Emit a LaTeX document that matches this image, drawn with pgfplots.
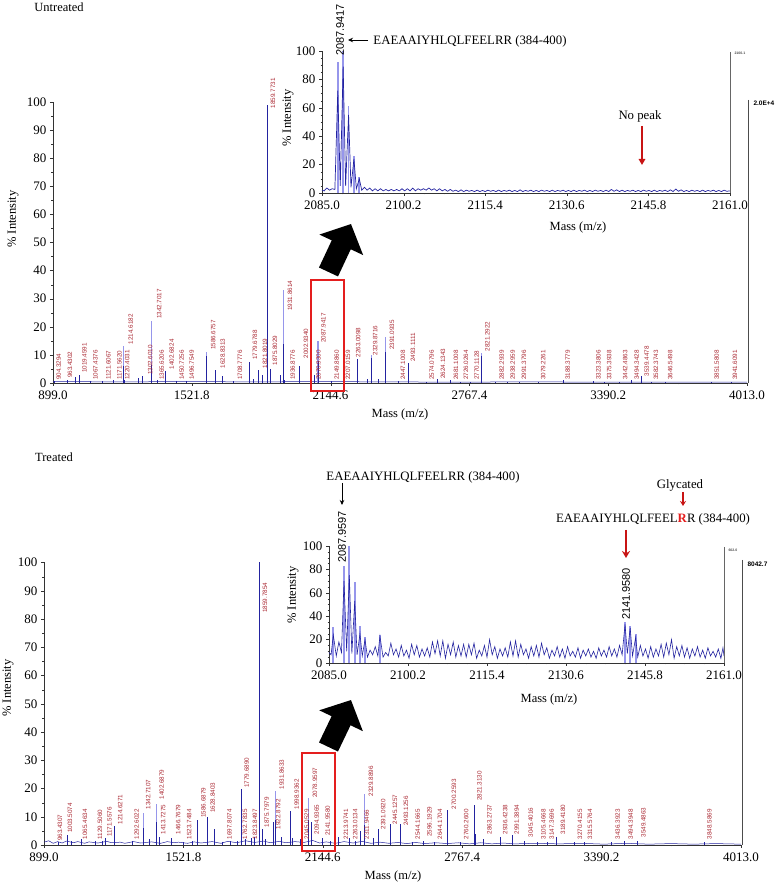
\documentclass[border=0pt]{standalone}
\usepackage{pgfplots}
\pgfplotsset{compat=1.18}
\usepackage{fontspec}
\setmainfont{Liberation Serif}
\newfontfamily\sansf{Liberation Sans}
\usetikzlibrary{arrows.meta}
\definecolor{navy}{RGB}{35,35,160}
\definecolor{lav}{RGB}{150,150,235}
\definecolor{labred}{RGB}{170,40,50}
\definecolor{boxred}{RGB}{228,30,30}
\definecolor{arrred}{RGB}{200,20,20}
\pgfplotsset{
  spec/.style={scale only axis, anchor=south west, axis x line=bottom, axis y line=left,
    axis line style={-, black!80}, tick style={black!80}, tick align=outside,
    major tick length=3pt, minor tick length=1.5pt,
    ticklabel style={font=\fontsize{13}{13}\selectfont},
    xticklabel style={yshift=-1.5pt},
    clip=false, /pgf/number format/assume math mode=true, ymin=0, ymax=100},
  labs/.style={only marks, mark=none, nodes near coords, point meta=explicit symbolic,
    nodes near coords align=horizontal,
    nodes near coords style={font=\sansf\fontsize{6.3}{6.3}\selectfont, text=labred,
      rotate=90, anchor=west, inner sep=0.6pt}},
}
\begin{document}
\begin{tikzpicture}
\useasboundingbox (0pt,0pt) rectangle (778pt,886pt);

% ================= UNTREATED main =================
\begin{axis}[spec, at={(53pt,503pt)}, width=694pt, height=281pt, xmin=899, xmax=4013,
  xtick={899,1521.8,2144.6,2767.4,3390.2,4013},
  xticklabels={899.0,1521.8,2144.6,2767.4,3390.2,4013.0},
  ytick={0,10,20,30,40,50,60,70,80,90,100}, minor x tick num=1, minor y tick num=1]
\addplot[navy, line width=0.5pt] coordinates {(899,0.5)(1200,0.4)(1500,0.5)(1800,0.4)(2100,0.5)(2400,0.4)(2700,0.3)(3000,0.4)(3400,0.3)(4013,0.3)};
% light (centroid) tops of the larger peaks
\addplot[ycomb, lav, line width=1.1pt, mark=none] coordinates {(1214.62,13)(1342.70,22)(1586.68,11)(1931.86,33)(2087.94,15)(2329.87,10)(2391.09,16.5)(2821.29,10.8)};
\addplot[ycomb, navy, line width=0.9pt, mark=none] table {
x y
904.33 0.8
963.43 1.2
1000.5 2.0
1019.46 3.0
1067.44 0.8
1121.61 0.8
1171.56 1.0
1214.62 6.0
1220.40 1.0
1282.0 1.8
1302.60 2.5
1342.70 6.5
1365.62 1.0
1402.68 4.3
1450.73 0.8
1496.75 0.8
1586.68 9.5
1628.83 4.5
1660.0 2.5
1708.78 0.8
1779.68 7.5
1800.0 1.5
1821.80 4.5
1840.0 3.0
1859.77 99.0
1862.0 25.0
1875.80 5.0
1920.0 3.0
1931.86 14.0
1936.88 1.0
2002.93 6.0
2070.93 3.0
2087.94 8.0
2091.0 5.0
2149.89 0.8
2207.02 0.8
2263.01 8.5
2310.0 1.5
2329.87 9.0
2360.0 1.5
2391.09 11.0
2447.10 0.8
2493.11 7.0
2574.08 0.5
2624.13 1.5
2681.10 1.0
2726.03 0.5
2770.11 0.5
2821.29 9.5
2882.29 0.5
2938.30 0.5
2991.38 0.5
3079.23 0.5
3188.38 1.0
3323.38 0.6
3375.39 0.5
3442.49 0.5
3494.34 1.0
3539.45 2.5
3582.37 0.5
3646.55 0.5
3851.58 0.5
3941.61 0.5
};
\addplot[labs] table[x=lx, y=ly, meta=lab] {
lx ly lab
925 0.8 904.3294
975 1.5 963.4302
1040 3.3 1019.4591
1090 0.8 1067.4376
1148 0.8 1121.6067
1197 0.8 1171.5620
1232 0.8 1220.4031
1248 13.5 1214.6182
1335 2.6 1302.6010
1375 22.5 1342.7017
1387 0.8 1365.6206
1432 4.6 1402.6824
1476 0.8 1450.7256
1521 0.8 1496.7549
1618 11.5 1586.6757
1660 4.9 1628.8313
1738 0.8 1708.7776
1805 7.9 1779.6788
1850 4.9 1821.8019
1886 97.5 1859.7731
1895 6 1875.8029
1962 25.5 1931.8614
1974 0.8 1936.8776
2034 8.5 2002.9340
2090 0.8 2070.9300
2112 14 2087.9417
2172 0.8 2149.8860
2223 0.8 2207.0159
2268 8.8 2263.0098
2345 9.5 2329.8716
2420 11.5 2391.0935
2469 0.8 2447.1008
2514 7.3 2493.1111
2598 0.8 2574.0796
2649 1.3 2624.1343
2707 0.8 2681.1008
2752 0.8 2726.0264
2800 0.8 2770.1128
2848 11 2821.2922
2912 0.8 2882.2939
2962 0.8 2938.2959
3012 0.8 2991.3796
3099 0.8 3079.2261
3208 0.8 3188.3779
3346 0.8 3323.3806
3395 0.8 3375.3938
3466 0.8 3442.4863
3518 0.8 3494.3428
3563 2.2 3539.4478
3605 0.8 3582.3743
3668 0.8 3646.5498
3877 0.8 3851.5808
3959 0.8 3941.6091
};
\end{axis}

% ================= UNTREATED inset =================
\begin{axis}[spec, at={(322pt,693pt)}, width=408pt, height=142pt, xmin=2085, xmax=2161,
  xtick={2085,2100.2,2115.4,2130.6,2145.8,2161},
  xticklabels={2085.0,2100.2,2115.4,2130.6,2145.8,2161.0},
  ytick={0,20,40,60,80,100}, minor y tick num=3, minor x tick num=3]
\addplot[ycomb, lav, line width=1.8pt, mark=none] coordinates {(2087.94,92)(2088.94,100)(2089.95,61)(2090.95,26)(2091.95,11)};
\addplot[navy, line width=0.7pt, mark=none] coordinates {(2085,2)(2085.4,1.5)(2085.9,3.5)(2086.4,2)(2086.9,3)(2087.4,2.5)(2087.94,72)(2088.4,5)(2088.94,89)(2089.4,5)(2089.95,55)(2090.4,4)(2090.95,24)(2091.4,3)(2091.95,10)(2092.4,2)(2092.9,4)(2093.4,2)(2093.9,3.5)(2094.4,1.5)(2094.9,3)(2095.4,1.5)(2095.9,3)(2096.4,1.5)(2096.9,2.5)(2097.4,1.5)(2097.9,2.5)(2098.4,1.5)(2098.9,2.5)(2099.4,1.5)(2099.9,3)(2100.4,1.5)(2100.9,3)(2101.4,1.5)(2101.9,3.5)(2102.4,1.5)(2102.9,3)(2103.4,2)(2103.9,3)(2104.4,2)(2104.9,3.5)(2105.4,2)(2105.9,3)(2106.4,1.5)(2106.9,3)(2107.4,1.5)(2107.9,2.5)(2108.4,1.2)(2108.9,2.5)(2109.4,1.2)(2109.9,2)(2110.4,1)(2110.9,2.2)(2111.4,1)(2111.9,2)(2112.4,1.2)(2112.9,1.8)(2113.4,1)(2113.9,2)(2114.4,1)(2114.9,1.8)(2115.4,1)(2115.9,2)(2116.4,1.2)(2116.9,1.8)(2117.4,1)(2117.9,2)(2118.4,1)(2118.9,1.8)(2119.4,1.2)(2119.9,2)(2120.4,1)(2120.9,1.8)(2121.4,1)(2121.9,2.2)(2122.4,1)(2122.9,1.8)(2123.4,1.2)(2123.9,2)(2124.4,1)(2124.9,1.8)(2125.4,1)(2125.9,2)(2126.4,1.2)(2126.9,1.8)(2127.4,1)(2127.9,2)(2128.4,1)(2128.9,1.8)(2129.4,1.2)(2129.9,2)(2130.4,1)(2130.9,1.8)(2131.4,1)(2131.9,2)(2132.4,1)(2132.9,1.8)(2133.4,1.2)(2133.9,2)(2134.4,1)(2134.9,1.8)(2135.4,1)(2135.9,2)(2136.4,1.2)(2136.9,1.8)(2137.4,1)(2137.9,2)(2138.4,1)(2138.9,2.5)(2139.4,1.2)(2139.9,2.2)(2140.4,1)(2140.9,2)(2141.4,1)(2141.9,1.8)(2142.4,1.2)(2142.9,2)(2143.4,1)(2143.9,1.8)(2144.4,1)(2144.9,2)(2145.4,1.2)(2145.9,1.8)(2146.4,1)(2146.9,2)(2147.4,1)(2147.9,1.8)(2148.4,1.2)(2148.9,2)(2149.4,1)(2149.9,2.2)(2150.4,1)(2150.9,2.8)(2151.4,1.2)(2151.9,2.2)(2152.4,1)(2152.9,1.8)(2153.4,1)(2153.9,2)(2154.4,1.2)(2154.9,1.8)(2155.4,1)(2155.9,2)(2156.4,1)(2156.9,1.8)(2157.4,1.2)(2157.9,2)(2158.4,1)(2158.9,1.8)(2159.4,1)(2159.9,2)(2160.4,1.2)(2161,1.5)};
\end{axis}

% ================= TREATED main =================
\begin{axis}[spec, at={(44pt,41pt)}, width=697pt, height=282.5pt, xmin=899, xmax=4013,
  xtick={899,1521.8,2144.6,2767.4,3390.2,4013},
  xticklabels={899.0,1521.8,2144.6,2767.4,3390.2,4013.0},
  ytick={0,10,20,30,40,50,60,70,80,90,100}, minor x tick num=1, minor y tick num=1]
\addplot[navy, line width=0.5pt, mark=none] coordinates {(899,1.0)(920,1.5)(940,0.6)(960,1.2)(980,0.7)(1000,1.4)(1030,0.8)(1050,1.2)(1080,0.6)(1100,1.1)(1140,0.7)(1180,1.3)(1200,0.8)(1240,1.0)(1260,0.6)(1300,1.2)(1330,0.7)(1380,1.1)(1420,0.6)(1450,1.2)(1480,0.8)(1500,1.0)(1540,0.6)(1570,1.1)(1600,0.7)(1650,1.2)(1690,0.6)(1720,1.3)(1760,0.8)(1800,1.5)(1840,0.9)(1880,1.4)(1910,0.8)(1950,1.3)(1980,0.8)(2020,1.2)(2060,0.9)(2100,1.6)(2130,0.7)(2160,1.1)(2200,0.6)(2240,1.2)(2280,0.7)(2320,1.3)(2360,0.6)(2400,1.0)(2440,0.6)(2480,0.9)(2520,0.5)(2560,0.9)(2600,0.5)(2650,0.8)(2700,0.5)(2750,0.8)(2800,0.4)(2850,0.8)(2900,0.4)(2950,0.7)(3000,0.4)(3100,0.6)(3200,0.4)(3300,0.6)(3400,0.3)(3500,0.6)(3600,0.3)(3700,0.5)(3800,0.3)(3900,0.5)(4013,0.3)};
\addplot[ycomb, lav, line width=1.1pt, mark=none] coordinates {(1342.71,11.2)(1402.69,14.5)(1931.86,19.0)(2078.96,16.5)(2329.89,18.0)};
\addplot[ycomb, navy, line width=0.9pt, mark=none] table {
x y
963.43 1.2
1003.51 3.5
1020.0 1.5
1065.46 2.0
1129.51 1.5
1160.0 1.5
1171.56 2.5
1214.63 6.7
1292.60 1.5
1342.71 6.0
1370.0 2.0
1402.69 8.0
1413.73 3.0
1466.77 2.5
1523.75 1.0
1560.0 1.5
1586.69 9.0
1628.84 9.8
1660.0 5.5
1697.81 1.0
1730.0 1.5
1762.78 1.5
1779.69 19.8
1800.0 2.0
1823.85 2.5
1840.0 3.0
1859.79 100
1862.0 25.3
1875.80 5.5
1890.0 2.0
1922.88 8.0
1931.86 9.0
1960.0 3.0
1998.94 12.0
2010.0 2.5
2045.05 2.0
2078.96 9.0
2094.94 8.0
2141.96 2.5
2180.0 1.5
2213.97 3.0
2263.01 2.5
2290.0 1.5
2311.95 5.0
2329.89 7.0
2370.0 2.5
2391.09 5.5
2445.13 7.5
2493.13 7.5
2544.17 1.0
2596.19 1.5
2644.17 1.0
2700.26 12.5
2760.26 1.0
2821.31 14.0
2825.0 4.0
2863.27 2.0
2936.42 3.0
2991.39 3.5
3045.40 1.5
3105.47 1.0
3147.37 1.0
3189.42 3.0
3270.42 1.0
3315.58 1.0
3436.39 1.0
3494.39 1.5
3549.49 1.5
3848.59 1.0
};
\addplot[labs] table[x=lx, y=ly, meta=lab] {
lx ly lab
970 1.2 963.4307
1015 4 1003.5074
1082 1.8 1065.4634
1149 1.8 1129.5060
1191 2.7 1171.5576
1239 7 1214.6271
1313 1.8 1292.6022
1365 12.3 1342.7107
1425 15.9 1402.6879
1432 3.5 1413.7275
1499 3.5 1466.7679
1548 1.8 1523.7484
1611 9.4 1586.6879
1653 11.2 1628.8403
1727 1.8 1697.8074
1797 1.8 1762.7835
1805 20 1779.6890
1842 1.8 1823.8497
1886 82 1859.7854
1894 6 1875.7979
1945 5.3 1922.8792
1961 19.4 1931.8633
2028 12.4 1998.9362
2073 1.8 2045.0529
2110 16.5 2078.9597
2117 3.5 2094.9365
2167 3 2141.9580
2248 1.8 2213.9741
2289 1.8 2263.0134
2341 1.8 2311.9466
2360 17 2329.8896
2415 5.3 2391.0920
2467 7 2445.1257
2516 6.5 2493.1256
2569 1.8 2544.1665
2621 2.7 2596.1929
2668 1.8 2644.1704
2731 12.4 2700.2593
2785 1.8 2760.2600
2844 15.3 2821.3130
2889 3.5 2863.2737
2959 3.5 2936.4238
3011 3.5 2991.3894
3073 2.4 3045.4016
3130 1.8 3105.4668
3167 1.8 3147.3696
3217 3.5 3189.4180
3294 1.8 3270.4155
3338 1.8 3315.5764
3462 1.8 3436.3923
3520 1.8 3494.3948
3577 2.4 3549.4863
3872 1.8 3848.5869
};
\end{axis}

% ================= TREATED inset =================
\begin{axis}[spec, at={(329pt,223pt)}, width=395pt, height=117pt, xmin=2085, xmax=2161,
  xtick={2085,2100.2,2115.4,2130.6,2145.8,2161},
  xticklabels={2085.0,2100.2,2115.4,2130.6,2145.8,2161.0},
  ytick={0,20,40,60,80,100}, minor y tick num=3, minor x tick num=3]
\addplot[ycomb, lav, line width=1.8pt, mark=none] coordinates {(2085.83,31)(2087.89,83)(2088.91,100)(2089.95,69)(2090.96,32)(2091.93,22)(2094.8,24)(2141.96,35)(2142.95,32)(2144.0,25)};
\addplot[navy, line width=0.6pt, mark=none] coordinates {(2085,9)(2085.4,7)(2085.83,24)(2086.4,6)(2086.9,18)(2087.4,9)(2087.89,70)(2088.4,10)(2088.91,75)(2089.4,8)(2089.95,53)(2090.4,7)(2090.96,25)(2091.4,6)(2091.93,20)(2092.4,5)(2092.9,11)(2093.4,7)(2093.9,14)(2094.4,6)(2094.8,23)(2095.4,5)(2095.9,9)(2096.4,6)(2096.9,17)(2097.4,7)(2097.9,12)(2098.4,5)(2098.9,15)(2099.4,6)(2099.9,11)(2100.4,4)(2100.9,16)(2101.4,7)(2101.9,15)(2102.4,5)(2102.9,12)(2103.4,6)(2103.9,13)(2104.4,5)(2104.9,18)(2105.4,8)(2105.9,19)(2106.4,6)(2106.9,19)(2107.4,4)(2107.9,16)(2108.4,7)(2108.9,18)(2109.4,5)(2109.9,15)(2110.4,6)(2110.9,16)(2111.4,5)(2111.9,16)(2112.4,7)(2112.9,17)(2113.4,4)(2113.9,11)(2114.4,6)(2114.9,15)(2115.4,5)(2115.9,20)(2116.4,7)(2116.9,14)(2117.4,4)(2117.9,12)(2118.4,6)(2118.9,13)(2119.4,5)(2119.9,18)(2120.4,6)(2120.9,19)(2121.4,5)(2121.9,16)(2122.4,7)(2122.9,12)(2123.4,4)(2123.9,14)(2124.4,6)(2124.9,15)(2125.4,5)(2125.9,17)(2126.4,7)(2126.9,13)(2127.4,4)(2127.9,11)(2128.4,6)(2128.9,14)(2129.4,5)(2129.9,12)(2130.4,4)(2130.9,14)(2131.4,6)(2131.9,10)(2132.4,5)(2132.9,13)(2133.4,4)(2133.9,11)(2134.4,6)(2134.9,12)(2135.4,5)(2135.9,10)(2136.4,4)(2136.9,13)(2137.4,6)(2137.9,11)(2138.4,5)(2138.9,14)(2139.4,6)(2139.9,12)(2140.4,5)(2140.9,15)(2141.4,7)(2141.96,33)(2142.4,8)(2142.95,30)(2143.4,6)(2144.0,22)(2144.4,5)(2144.9,15)(2145.4,6)(2145.9,12)(2146.4,4)(2146.9,14)(2147.4,5)(2147.9,12)(2148.4,6)(2148.9,16)(2149.4,5)(2149.9,17)(2150.4,7)(2150.9,20)(2151.4,4)(2151.9,14)(2152.4,6)(2152.9,15)(2153.4,5)(2153.9,13)(2154.4,4)(2154.9,12)(2155.4,6)(2155.9,14)(2156.4,5)(2156.9,11)(2157.4,4)(2157.9,13)(2158.4,6)(2158.9,10)(2159.4,5)(2159.9,12)(2160.4,4)(2160.8,13)(2161,6)};
\end{axis}

% ---------- text & decorations (positions in pt, origin bottom-left) ----------
\def\lbl{\fontsize{12.5}{12.5}\selectfont}
\node[font=\lbl] at (59pt,879pt) {Untreated};
\node[font=\lbl] at (54pt,429pt) {Treated};
\node[font=\lbl, rotate=90] at (13pt,667pt) {\% Intensity};
\node[font=\lbl] at (400pt,471pt) {Mass (m/z)};
\node[font=\lbl, rotate=90] at (288pt,768pt) {\% Intensity};
\node[font=\lbl] at (578pt,658pt) {Mass (m/z)};
\node[font=\lbl, rotate=90] at (8pt,198pt) {\% Intensity};
\node[font=\lbl] at (393pt,10pt) {Mass (m/z)};
\node[font=\lbl, rotate=90] at (293pt,291pt) {\% Intensity};
\node[font=\lbl] at (549pt,187pt) {Mass (m/z)};

% right edge lines
\draw[black!60, line width=0.8pt] (730pt,834pt) -- (730pt,693pt);
\node[font=\sansf\bfseries\fontsize{3.5}{3.5}\selectfont, anchor=west, black!70] at (731pt,833pt) {2100.1};
\draw[black!70, line width=0.9pt] (748pt,786pt) -- (748pt,503pt);
\node[font=\sansf\bfseries\fontsize{6.5}{6.5}\selectfont, anchor=west] at (750pt,783pt) {2.0E+4};
\draw[black!60, line width=0.8pt] (724pt,339pt) -- (724pt,223pt);
\node[font=\sansf\bfseries\fontsize{3.5}{3.5}\selectfont, anchor=west, black!70] at (725pt,336pt) {602.0};
\draw[black!70, line width=0.9pt] (742pt,326pt) -- (742pt,41pt);
\node[font=\sansf\bfseries\fontsize{6.5}{6.5}\selectfont, anchor=west] at (744pt,322pt) {8042.7};

% top annotations
\node[font=\sansf\fontsize{11}{11}\selectfont, rotate=90] at (340pt,856pt) {2087.9417};
\draw[line width=0.7pt, -{Stealth[length=5pt,width=4.5pt]}] (368pt,846pt) -- (348pt,846pt);
\node[font=\fontsize{12.8}{12.8}\selectfont] at (470pt,845pt) {EAEAAIYHLQLFEELRR (384-400)};
\node[font=\fontsize{12.8}{12.8}\selectfont] at (640pt,770pt) {No peak};
\draw[arrred, line width=1.6pt, -{Triangle[length=6pt,width=6.5pt]}] (642pt,760pt) -- (642pt,721pt);

% bottom annotations
\node[font=\fontsize{12.8}{12.8}\selectfont] at (423pt,409pt) {EAEAAIYHLQLFEELRR (384-400)};
\draw[line width=0.7pt, -{Stealth[length=5pt,width=4.5pt]}] (342pt,403pt) -- (342pt,381pt);
\node[font=\sansf\fontsize{11}{11}\selectfont, rotate=90] at (342pt,349pt) {2087.9597};
\node[font=\fontsize{12.8}{12.8}\selectfont] at (680pt,401pt) {Glycated};
\draw[arrred, line width=1.4pt, -{Stealth[length=5pt,width=6pt]}] (683pt,394pt) -- (683pt,380pt);
\node[font=\fontsize{12.8}{12.8}\selectfont] at (653pt,367pt) {EAEAAIYHLQLFEEL\textcolor{boxred}{\textbf{R}}R (384-400)};
\draw[arrred, line width=1.8pt, -{Stealth[length=7pt,width=8pt]}] (626pt,356pt) -- (626pt,328pt);
\node[font=\sansf\fontsize{11}{11}\selectfont, rotate=90] at (626pt,292pt) {2141.9580};

% zoom boxes and big arrows
\draw[boxred, line width=1.8pt] (311pt,606pt) rectangle (344pt,495pt);
\draw[boxred, line width=1.8pt] (302pt,133pt) rectangle (335pt,35pt);
\draw[black, line width=21pt, -{Triangle[length=23pt,width=47pt]}] (328.5pt,614pt) -- (351pt,662pt);
\draw[black, line width=21pt, -{Triangle[length=23pt,width=47pt]}] (328.5pt,139pt) -- (351pt,186pt);
\end{tikzpicture}
\end{document}
